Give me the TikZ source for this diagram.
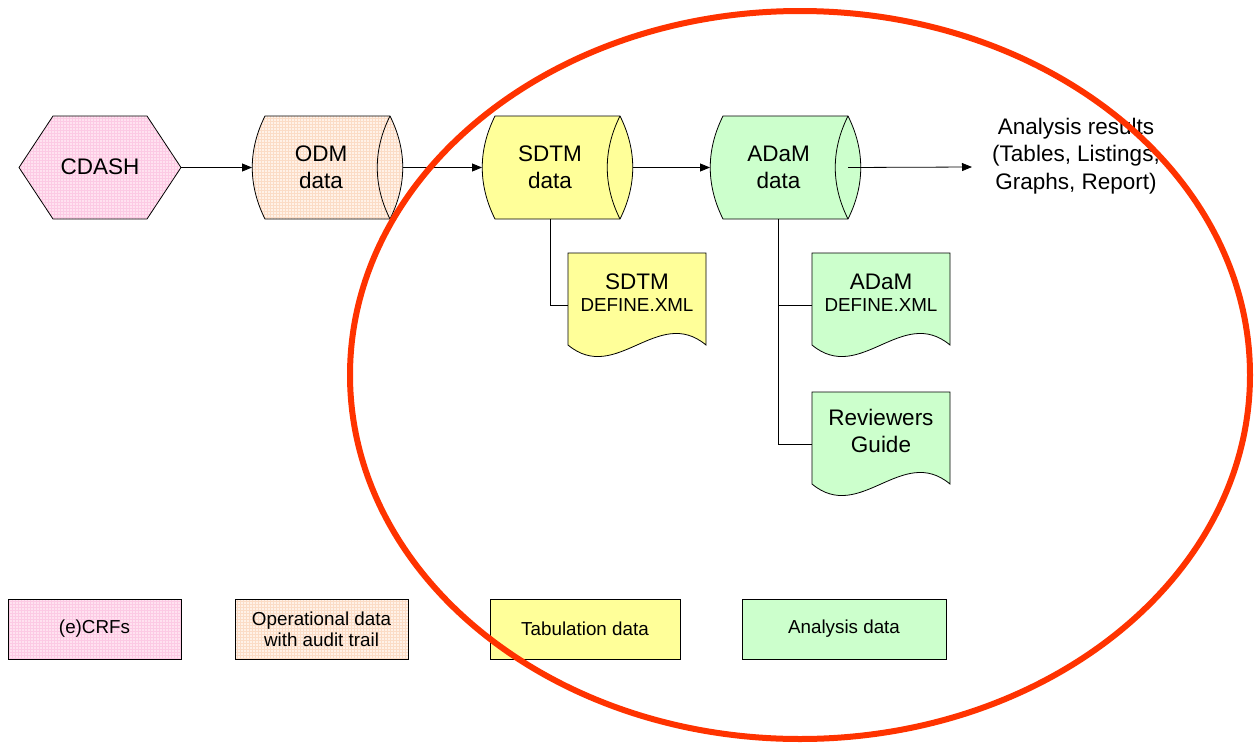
\documentclass[tikz,border=0pt]{standalone}
\usepackage{fontspec}
\setmainfont{Liberation Sans}
\usetikzlibrary{arrows.meta,patterns,calc}
\pgfdeclarelayer{background}
\pgfsetlayers{background,main}

\definecolor{pinkbase}{RGB}{255,226,240}
\definecolor{pinkgrid}{RGB}{252,202,228}
\definecolor{peachbase}{RGB}{255,242,232}
\definecolor{peachgrid}{RGB}{251,220,198}
\definecolor{tabyellow}{RGB}{255,255,153}
\definecolor{anagreen}{RGB}{204,255,204}
\definecolor{ringred}{RGB}{255,51,0}

% horizontal drum (data store) drawn around a bounding node:
% the ends are shallow arcs meeting the flat sides at a corner
\newcommand\drumshape[2]{%
  \path[outline,#2] ($(#1.north west)+(13,0)$) -- ($(#1.north east)+(-13,0)$)
    .. controls ($(#1.north east)+(4,34)$) and ($(#1.south east)+(4,-34)$)
    .. ($(#1.south east)+(-13,0)$)
    -- ($(#1.south west)+(13,0)$)
    .. controls ($(#1.south west)+(-4,-34)$) and ($(#1.north west)+(-4,34)$)
    .. ($(#1.north west)+(13,0)$) -- cycle;
  \draw[outline] ($(#1.north east)+(-13,0)$)
    .. controls ($(#1.north east)+(-30,34)$) and ($(#1.south east)+(-30,-34)$)
    .. ($(#1.south east)+(-13,0)$);}

% document sheet with a wavy lower edge
\newcommand\docshape[2]{%
  \path[outline,#2] (#1.north west) -- (#1.north east) -- ($(#1.north east)+(0,92)$)
    .. controls ($(#1.north west)+(90,52)$) and ($(#1.north west)+(48,132)$)
    .. ($(#1.north west)+(0,92)$) -- cycle;}

\begin{document}
\begin{tikzpicture}[x=1pt,y=-1pt,
  outline/.style={draw=black,line width=0.8pt},
  pinkfill/.style={preaction={fill=pinkbase},pattern=grid,pattern color=pinkgrid},
  peachfill/.style={preaction={fill=peachbase},pattern=grid,pattern color=peachgrid},
  yellowfill/.style={fill=tabyellow},
  greenfill/.style={fill=anagreen},
  frame/.style={inner sep=0,outer sep=0},
  drumbox/.style={frame,minimum width=151pt,minimum height=103pt},
  docbox/.style={frame,minimum width=138pt,minimum height=104pt},
  bigtext/.style={font=\fontsize{22.5}{27}\selectfont,align=center,inner sep=0},
  doctext/.style={align=center,inner sep=0,font=\fontsize{18.8}{22}\selectfont},
  conn/.style={draw=black,line width=0.8pt},
  arr/.style={conn,-{Triangle[length=10pt,width=8pt]}},
  legend/.style={draw=black,line width=0.8pt,font=\fontsize{18.8}{21}\selectfont,
    align=center,inner sep=0,minimum height=60pt}]
\useasboundingbox (0,0) rectangle (1254,745);

% bounding nodes of the flow shapes
\node[frame,minimum width=162pt,minimum height=103pt] (cdash) at (100,167.5) {};
\node[drumbox] (odm)  at (327.5,167.5) {};
\node[drumbox] (sdtm) at (557.5,167.5) {};
\node[drumbox] (adam) at (785.5,167.5) {};
\node[docbox] (sdtmdef)  at (637,305) {};
\node[docbox] (adamdef)  at (881,305) {};
\node[docbox] (revguide) at (881,444) {};

\begin{pgfonlayer}{background}
  \path[outline,pinkfill] (cdash.west) -- ($(cdash.north west)+(34,0)$)
    -- ($(cdash.north east)+(-34,0)$) -- (cdash.east)
    -- ($(cdash.south east)+(-34,0)$) -- ($(cdash.south west)+(34,0)$) -- cycle;
  \drumshape{odm}{peachfill}
  \drumshape{sdtm}{yellowfill}
  \drumshape{adam}{greenfill}
  \docshape{sdtmdef}{yellowfill}
  \docshape{adamdef}{greenfill}
  \docshape{revguide}{greenfill}
\end{pgfonlayer}

% labels
\node[bigtext] (cdashtxt) at (100,167) {CDASH};
\node[bigtext] (odmtxt)  at (321,167) {ODM\\data};
\node[bigtext] (sdtmtxt) at (550,167) {SDTM\\data};
\node[bigtext] (adamtxt) at (778.5,167) {ADaM\\data};
\node[doctext] (sdtmdeftxt) at (637,293)
  {\fontsize{22.5}{22}\selectfont SDTM\\DEFINE.XML};
\node[doctext] (adamdeftxt) at (881,293)
  {\fontsize{22.5}{22}\selectfont ADaM\\DEFINE.XML};
\node[bigtext] (revguidetxt) at (881,431) {Reviewers\\Guide};
\node[bigtext,font=\fontsize{22.5}{27.5}\selectfont] (results) at (1076,156)
  {Analysis results\\(Tables, Listings,\\Graphs, Report)};

% flow
\coordinate (adamcore) at ($(adam.east)+(-13,0)$);
\coordinate (restip) at (972,167);
\draw[arr] (cdash.east) -- (odm.west);
\draw[arr] (odm.east) -- (sdtm.west);
\draw[arr] (sdtm.east) -- (adam.west);
\draw[arr] (adamcore) -- (restip);
\draw[conn] (sdtmtxt |- sdtm.south) |- (sdtmdef.west);
\draw[conn] (adamtxt |- adam.south) |- (adamdef.west);
\draw[conn] (adamtxt |- adam.south) |- (revguide.west);

% legend
\node[legend,pinkfill,minimum width=173pt] (lgcrf) at (94.5,629) {(e)CRFs};
\node[legend,peachfill,minimum width=173pt] (lgodm) at (321.5,629)
  {Operational data\\with audit trail};
\node[legend,yellowfill,minimum width=190pt] (lgtab) at (585,629) {Tabulation data};
\node[legend,greenfill,minimum width=204pt] (lgana) at (844,629) {Analysis data};

% highlight ring
\draw[ringred,line width=6pt] (800,375) ellipse [x radius=450pt,y radius=364pt];
\end{tikzpicture}
\end{document}
